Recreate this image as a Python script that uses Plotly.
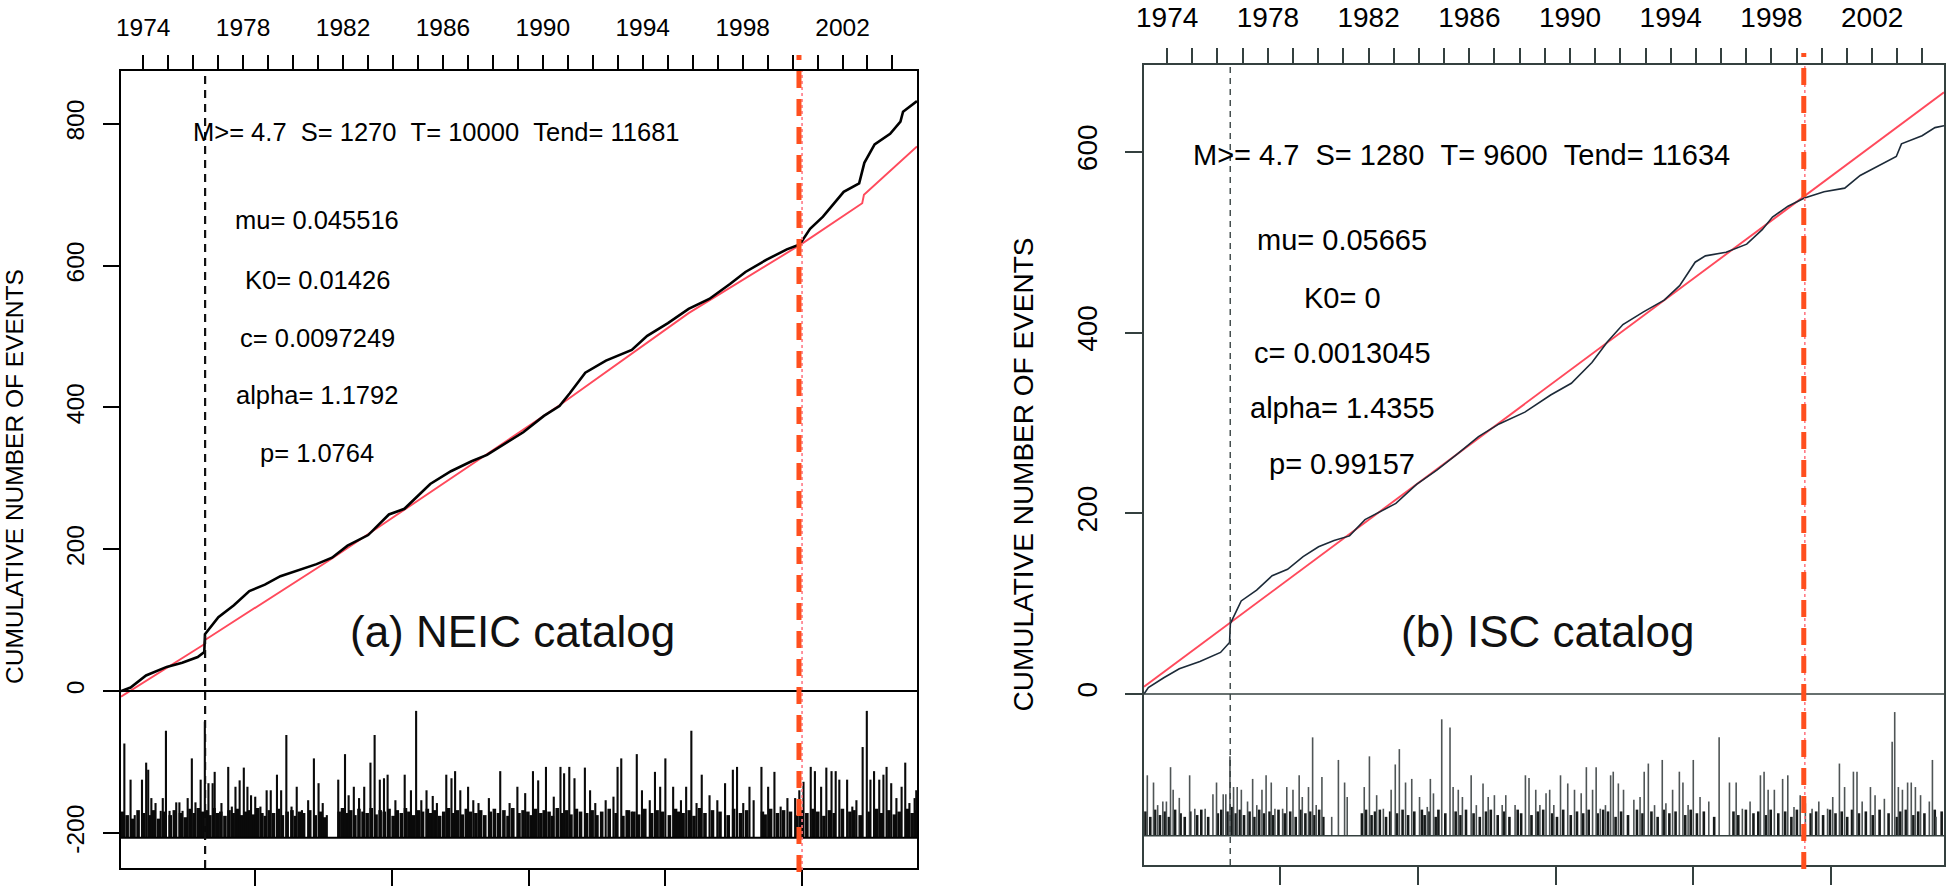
import datetime as dt
import plotly.graph_objects as go

W, H = 1946, 886

# ---------------- DATA (days since 1973-01-01, cumulative counts) ----------------
neic_days = [40, 180, 406, 708, 935, 1162, 1258, 1268, 1464, 1691, 1917, 2144, 2371, 2635, 2900,
             3126, 3353, 3655, 3806, 3958, 4185, 4411, 4562, 4865, 5167, 5393, 5620, 5923, 6225,
             6452, 6603, 6830, 7132, 7510, 7736, 8039, 8341, 8643, 8946, 9172, 9475, 9777, 9966,
             10117, 10306, 10609, 10835, 10911, 11061, 11288, 11439, 11477, 11681]
neic_cum = [0, 5, 22, 34, 40, 48, 55, 80, 104, 121, 141, 150, 162, 170, 179,
            188, 205, 220, 234, 249, 257, 278, 292, 310, 324, 333, 347, 365, 388,
            402, 420, 449, 466, 481, 501, 519, 539, 553, 574, 591, 608, 623, 630,
            652, 669, 704, 716, 745, 771, 786, 803, 817, 832]
neic_fit_days = [40, 1258, 1268, 3126, 6452, 8341, 10000, 10880, 10905, 11681]
neic_fit_cum = [-8, 66, 72, 187, 403, 533, 631, 688, 700, 768]

isc_days = [29, 92, 316, 541, 840, 1139, 1270, 1282, 1439, 1663, 1888, 2112, 2337, 2561, 2786,
            3010, 3235, 3459, 3683, 3983, 4282, 4581, 4881, 5180, 5554, 5928, 6228, 6527, 6752,
            6976, 7275, 7575, 7799, 8024, 8173, 8473, 8772, 8997, 9146, 9371, 9610, 9894, 10194,
            10418, 10718, 10942, 11017, 11316, 11503, 11634]
isc_cum = [0, 7, 18, 28, 36, 46, 57, 78, 103, 115, 131, 138, 152, 163, 170,
           175, 193, 202, 211, 232, 248, 266, 285, 299, 312, 331, 344, 367, 390,
           409, 423, 436, 452, 478, 485, 489, 498, 514, 528, 540, 549, 556, 560,
           574, 586, 595, 609, 618, 627, 629]
isc_fit_days = [29, 11634]
isc_fit_cum = [8, 666]

# magnitude spikes (event day, spike top in plot units)
neic_spike_days = [89, 180, 241, 347, 408, 438, 484, 545, 621, 651,
                   697, 750, 848, 894, 940, 1015, 1076, 1129, 1205, 1266,
                   1319, 1380, 1410, 1509, 1608, 1661, 1714, 1775, 1836, 1889,
                   1942, 2003, 2079, 2170, 2230, 2321, 2382, 2458, 2534, 2610,
                   2686, 2777, 2861, 2929, 2990, 3050, 3217, 3316, 3369, 3445,
                   3521, 3597, 3688, 3749, 3825, 3886, 3939, 4053, 4189, 4280,
                   4356, 4432, 4508, 4599, 4660, 4797, 4873, 4926, 5002, 5116,
                   5192, 5268, 5420, 5586, 5723, 5837, 5951, 6065, 6141, 6255,
                   6369, 6467, 6520, 6596, 6672, 6824, 6900, 6976, 7128, 7242,
                   7302, 7356, 7432, 7507, 7583, 7659, 7773, 7849, 7925, 8001,
                   8115, 8229, 8305, 8381, 8457, 8533, 8647, 8761, 8874, 8988,
                   9049, 9140, 9231, 9292, 9406, 9504, 9596, 9687, 9786, 9899,
                   9960, 10021, 10127, 10188, 10279, 10355, 10431, 10492, 10545, 10659,
                   10735, 10795, 10886, 10947, 11000, 11053, 11129, 11190, 11236, 11304,
                   11380, 11456, 11509, 11570, 11646, 11670]
neic_spike_top = [-74, -125, -175, -125, -101, -111, -151, -158, -169, -151,
                  -56, -169, -157, -157, -169, -151, -95, -157, -125, -43,
                  -130, -130, -114, -158, -107, -163, -135, -126, -108, -135,
                  -147, -149, -163, -140, -140, -118, -140, -62, -163, -135,
                  -168, -154, -95, -130, -158, -175, -125, -89, -147, -135,
                  -151, -135, -101, -62, -125, -123, -118, -154, -118, -140,
                  -28, -154, -140, -148, -158, -118, -123, -113, -140, -135,
                  -154, -158, -151, -113, -158, -135, -144, -113, -126, -107,
                  -149, -107, -116, -107, -123, -108, -140, -158, -154, -149,
                  -107, -95, -168, -170, -89, -140, -154, -114, -135, -95,
                  -135, -154, -135, -56, -158, -118, -147, -154, -130, -111,
                  -107, -158, -135, -154, -107, -135, -114, -163, -151, -151,
                  -140, -128, -107, -113, -135, -108, -113, -113, -125, -125,
                  -163, -154, -79, -28, -125, -113, -125, -118, -107, -130,
                  -151, -135, -101, -158, -151, -140]
neic_base_days = [60, 130, 210, 290, 370, 460, 520, 590, 680, 760, 820, 910, 980, 1050, 1110, 1170, 1230,
                  1290, 1340, 1400, 1450, 1500, 1560, 1620, 1680, 1740, 1800, 1860, 1920, 1980, 2040,
                  2100, 2150, 2210, 2270, 2340, 2400, 2470, 2540, 2590, 2650, 2710, 2800, 2880, 2960,
                  3020, 3230, 3280, 3340, 3400, 3460, 3520, 3580, 3640, 3700, 3770, 3830, 3890, 3960,
                  4020, 4080, 4140, 4200, 4250, 4320, 4390, 4450, 4520, 4570, 4630, 4700, 4760, 4830,
                  4900, 4960, 5030, 5090, 5150, 5230, 5300, 5360, 5440, 5500, 5560, 5640, 5700, 5770,
                  5860, 5920, 5990, 6040, 6100, 6180, 6230, 6300, 6350, 6420, 6490, 6560, 6620, 6700,
                  6760, 6850, 6930, 7000, 7070, 7180, 7280, 7380, 7460, 7540, 7610, 7700, 7800, 7880,
                  7960, 8060, 8150, 8190, 8260, 8350, 8420, 8500, 8580, 8690, 8800, 8920, 9000, 9100,
                  9190, 9420, 9460, 9540, 9640, 9730, 9830, 9920, 9990, 10070, 10160, 10230, 10320,
                  10400, 10470, 10590, 10700, 10760, 10850, 10980, 11090, 11160, 11270, 11350, 11420,
                  11540, 11610, 11665]
neic_base_top = [-170, -175, -180, -168, -172, -175, -168, -180, -170, -175, -168, -172, -178, -166, -172, -165, -170,
                 -168, -175, -165, -172, -170, -176, -168, -172, -166, -175, -170, -168, -174, -165,
                 -172, -176, -168, -172, -166, -175, -170, -168, -176, -170, -172, -168, -175, -170,
                 -178, -170, -165, -172, -168, -175, -166, -170, -172, -165, -174, -168, -170, -166,
                 -176, -168, -172, -165, -170, -175, -168, -170, -166, -172, -168, -176, -170, -165,
                 -172, -168, -174, -166, -170, -172, -168, -175, -170, -166, -172, -168, -176, -165,
                 -172, -168, -170, -175, -166, -172, -168, -170, -176, -165, -172, -168, -174, -166,
                 -170, -172, -168, -175, -170, -166, -172, -176, -168, -170, -174, -166, -172, -168,
                 -170, -175, -166, -170, -172, -168, -176, -165, -172, -168, -170, -175, -166, -172,
                 -168, -170, -174, -166, -172, -168, -170, -175, -168, -172, -166, -170, -176,
                 -168, -172, -166, -170, -168, -175, -170, -166, -172, -168, -174, -170,
                 -166, -172, -168]

isc_spike_days = [77, 167, 227, 302, 354, 414, 452, 541, 691, 766,
                  916, 1029, 1081, 1178, 1216, 1276, 1328, 1381, 1441, 1531,
                  1605, 1665, 1740, 1800, 1875, 1928, 2040, 2100, 2190, 2280,
                  2325, 2415, 2475, 2527, 2610, 2752, 2849, 2939, 2977, 3224,
                  3299, 3404, 3501, 3614, 3674, 3733, 3823, 3913, 4026, 4138,
                  4183, 4228, 4348, 4468, 4513, 4588, 4648, 4775, 4850, 4947,
                  5022, 5112, 5225, 5277, 5412, 5562, 5614, 5712, 5772, 5861,
                  5914, 5974, 6071, 6176, 6274, 6371, 6446, 6536, 6588, 6648,
                  6723, 6798, 6836, 6910, 6985, 7135, 7225, 7285, 7345, 7435,
                  7547, 7600, 7697, 7795, 7847, 7922, 7997, 8095, 8222, 8372,
                  8522, 8619, 8709, 8821, 8971, 9024, 9083, 9173, 9293, 9368,
                  9458, 9548, 9623, 9720, 9818, 9945, 10020, 10117, 10192, 10320,
                  10372, 10447, 10567, 10634, 10769, 10882, 10919, 10972, 11031, 11106,
                  11159, 11219, 11294, 11421, 11466, 11519]
isc_spike_top = [-90, -98, -123, -119, -119, -81, -106, -115, -90, -127,
                 -127, -111, -98, -111, -111, -69, -103, -103, -106, -119,
                 -94, -123, -106, -90, -98, -127, -127, -103, -106, -90,
                 -114, -103, -48, -123, -92, -136, -73, -98, -114, -103,
                 -69, -112, -127, -106, -78, -61, -98, -94, -114, -125,
                 -94, -110, -28, -37, -103, -106, -114, -90, -123, -99,
                 -114, -112, -123, -112, -123, -90, -93, -106, -123, -110,
                 -106, -123, -90, -99, -106, -110, -81, -106, -81, -127,
                 -123, -90, -86, -99, -106, -117, -114, -86, -77, -123,
                 -73, -121, -106, -86, -98, -123, -73, -114, -119, -48,
                 -98, -98, -127, -119, -90, -86, -106, -106, -94, -90,
                 -125, -112, -121, -127, -119, -127, -114, -77, -103, -86,
                 -86, -119, -103, -112, -116, -53, -20, -103, -106, -98,
                 -98, -103, -112, -119, -73, -136]
isc_base_days = [50, 120, 190, 260, 330, 390, 480, 560, 620, 700, 800, 860, 960, 1100, 1150, 1240,
                 1300, 1360, 1420, 1480, 1560, 1630, 1700, 1770, 1850, 1900, 1980, 2070, 2150, 2230,
                 2300, 2370, 2440, 2500, 2570, 2630, 3190, 3250, 3330, 3380, 3450, 3540, 3600, 3700,
                 3780, 3860, 3950, 4060, 4100, 4170, 4260, 4300, 4400, 4550, 4620, 4700, 4810, 4900,
                 4990, 5060, 5160, 5250, 5330, 5450, 5500, 5650, 5740, 5820, 5950, 6020, 6110, 6220,
                 6310, 6400, 6480, 6610, 6690, 6760, 6870, 6950, 7050, 7180, 7260, 7390, 7480, 7570,
                 7650, 7740, 7880, 7960, 8050, 8150, 8300, 8580, 8650, 8760, 8870, 8940, 9050, 9120,
                 9230, 9330, 9420, 9500, 9700, 9780, 9880, 9980, 10060, 10150, 10230, 10300, 10400,
                 10500, 10600, 10700, 10830, 10950, 11000, 11080, 11190, 11260, 11350, 11500, 11600]
isc_base_top = [-130, -136, -128, -134, -130, -136, -128, -132, -136, -130, -134, -128, -136, -132, -128, -130,
                -125, -132, -128, -134, -130, -136, -128, -132, -130, -134, -128, -132, -130, -136,
                -128, -132, -130, -134, -128, -136, -132, -128, -134, -130, -128, -136, -130, -132,
                -128, -134, -130, -128, -134, -130, -136, -128, -132, -130, -134, -128, -132, -136,
                -130, -128, -134, -130, -136, -128, -132, -134, -130, -128, -132, -136, -128, -134,
                -130, -132, -128, -132, -128, -130, -136, -130, -134, -128, -132, -130, -136, -128,
                -132, -130, -134, -128, -132, -130, -136, -130, -134, -128, -132, -130, -134, -128,
                -132, -130, -136, -128, -132, -130, -134, -128, -132, -130, -136, -128, -132,
                -130, -134, -128, -132, -136, -130, -128, -134, -130, -132, -128, -130]

neic_S, neic_T, neic_Tend, neic_start, neic_base = 1270, 10000, 11681, 40, -207
isc_S, isc_T, isc_Tend, isc_start, isc_base = 1280, 9600, 11634, 29, -157
neic_yrange = [-249.6, 874.5]
isc_yrange = [-189.3, 696.3]
neic_yticks = [-200, 0, 200, 400, 600, 800]
isc_yticks = [0, 200, 400, 600]
bottom_ticks = [2000, 4000, 6000, 8000, 10000]
years = list(range(1974, 2005))
year_labels = [str(y) if (y - 1974) % 4 == 0 else "" for y in years]

neic_header = "M>= 4.7  S= 1270  T= 10000  Tend= 11681"
neic_params = ["mu= 0.045516", "K0= 0.01426", "c= 0.0097249", "alpha= 1.1792", "p= 1.0764"]
isc_header = "M>= 4.7  S= 1280  T= 9600  Tend= 11634"
isc_params = ["mu= 0.05665", "K0= 0", "c= 0.0013045", "alpha= 1.4355", "p= 0.99157"]
ytitle = "CUMULATIVE NUMBER OF EVENTS"
neic_label = "(a) NEIC catalog"
isc_label = "(b) ISC catalog"

# ---------------- helpers ----------------
FONT = "Liberation Sans, Arial, Helvetica, sans-serif"
year_days = [(dt.date(y, 1, 1) - dt.date(1973, 1, 1)).days for y in years]


def px(x):
    return x / W


def py(y):
    return 1 - y / H


def nb(s):
    return s.replace("  ", " \u00a0")


def spikes(days, tops, base):
    xs, ys = [], []
    for d, t in zip(days, tops):
        xs += [d, d, None]
        ys += [base, t, None]
    return xs, ys


fig = go.Figure()

panels = [
    dict(ax="", topax="3", days=neic_days, cum=neic_cum, fd=neic_fit_days, fc=neic_fit_cum,
         sd=neic_spike_days, st=neic_spike_top, bd=neic_base_days, bt=neic_base_top,
         base=neic_base, S=neic_S, T=neic_T, start=neic_start, Tend=neic_Tend,
         yr=neic_yrange, yt=neic_yticks, box=(121, 917, 71, 868),
         lc="#000000", lw=2.0, cc="#000000", cw=2.6, sc="#0a0a0a", sw=2.1, bc="#0a0a0a", bw=3.6,
         tick=24.5, txt=25.5, ticklen=16, ystand=9, xstand=9,
         header=neic_header, params=neic_params, hxy=(436, 132), px_=317,
         pys=[220, 280, 338, 395, 453], label=neic_label, lxy=(512, 631),
         title_xy=(14, 477), red_y=(55, 872), dot_off=0, dash_off=-45, sdash="8px,6px", sdw=2.2),
    dict(ax="2", topax="4", days=isc_days, cum=isc_cum, fd=isc_fit_days, fc=isc_fit_cum,
         sd=isc_spike_days, st=isc_spike_top, bd=isc_base_days, bt=isc_base_top,
         base=isc_base, S=isc_S, T=isc_T, start=isc_start, Tend=isc_Tend,
         yr=isc_yrange, yt=isc_yticks, box=(1144, 1944, 65, 865),
         lc="#34403f", lw=1.6, cc="#1c2a38", cw=1.6, sc="#4f5556", sw=1.6, bc="#161a1a", bw=2.6,
         tick=28, txt=29, ticklen=17, ystand=17, xstand=10,
         header=isc_header, params=isc_params, hxy=(1461, 155), px_=1342,
         pys=[240, 298, 353, 408, 464], label=isc_label, lxy=(1547, 631),
         title_xy=(1022.5, 474), red_y=(53, 869), dot_off=15, dash_off=0, sdash="6px,5px", sdw=1.4),
]

layout = dict(width=W, height=H, margin=dict(l=0, r=0, t=0, b=0), autosize=False,
              paper_bgcolor="white", plot_bgcolor="white", showlegend=False,
              font=dict(family=FONT, color="#000"))
shapes, annotations = [], []

for p in panels:
    xa = "x" + p["ax"]
    ya = "y" + p["ax"]
    xt = "x" + p["topax"]
    x0, x1, yt0, yb0 = p["box"]
    xrange = [p["start"], p["Tend"]]
    # spikes
    bx, by = spikes(p["bd"], p["bt"], p["base"])
    fig.add_trace(go.Scatter(x=bx, y=by, mode="lines", xaxis=xa, yaxis=ya,
                             line=dict(color=p["bc"], width=p["bw"]), hoverinfo="skip"))
    sx, sy = spikes(p["sd"], p["st"], p["base"])
    fig.add_trace(go.Scatter(x=sx, y=sy, mode="lines", xaxis=xa, yaxis=ya,
                             line=dict(color=p["sc"], width=p["sw"]), hoverinfo="skip"))
    # fitted curve and observed cumulative
    fig.add_trace(go.Scatter(x=p["fd"], y=p["fc"], mode="lines", xaxis=xa, yaxis=ya,
                             line=dict(color="#ff4a5c", width=1.9), hoverinfo="skip"))
    fig.add_trace(go.Scatter(x=p["days"], y=p["cum"], mode="lines", xaxis=xa, yaxis=ya,
                             line=dict(color=p["cc"], width=p["cw"]), hoverinfo="skip"))
    # dummy trace for the top year axis
    fig.add_trace(go.Scatter(x=xrange, y=[0, 0], mode="lines", xaxis=xt, yaxis=ya,
                             line=dict(color="rgba(0,0,0,0)", width=0), hoverinfo="skip"))

    xdom = [px(x0), px(x1)]
    ydom = [py(yb0), py(yt0)]
    key = p["ax"]
    layout["xaxis" + key] = dict(domain=xdom, range=xrange, anchor=ya, showgrid=False, zeroline=False,
                                 showline=True, mirror=True, linecolor=p["lc"], linewidth=p["lw"],
                                 ticks="outside", tickvals=bottom_ticks, ticklen=p["ticklen"] + 1,
                                 tickwidth=p["lw"], tickcolor=p["lc"], showticklabels=False,
                                 fixedrange=True, automargin=False)
    layout["yaxis" + key] = dict(domain=ydom, range=p["yr"], anchor=xa, showgrid=False, zeroline=False,
                                 showline=True, mirror=True, linecolor=p["lc"], linewidth=p["lw"],
                                 ticks="outside", tickvals=p["yt"], ticktext=[str(v) for v in p["yt"]],
                                 ticklen=p["ticklen"], tickwidth=p["lw"], tickcolor=p["lc"],
                                 tickangle=-90, tickfont=dict(size=p["tick"], color="#000", family=FONT),
                                 ticklabelstandoff=p["ystand"], fixedrange=True, automargin=False)
    layout["xaxis" + p["topax"]] = dict(domain=xdom, range=xrange, anchor=ya, overlaying=xa, side="top",
                                        showgrid=False, zeroline=False, showline=False,
                                        ticks="outside", tickvals=year_days, ticktext=year_labels,
                                        ticklen=p["ticklen"] - 1, tickwidth=p["lw"], tickcolor=p["lc"],
                                        tickangle=0, tickfont=dict(size=p["tick"], color="#000", family=FONT),
                                        ticklabelstandoff=p["xstand"], fixedrange=True, automargin=False)

    # horizontal lines: zero line and spike baseline
    for yv in (0, p["base"]):
        shapes.append(dict(type="line", xref=xa + " domain", yref=ya, x0=0, x1=1, y0=yv, y1=yv,
                           line=dict(color=p["lc"], width=p["lw"])))
    # S marker
    shapes.append(dict(type="line", xref=xa, yref=ya + " domain", x0=p["S"], x1=p["S"], y0=0, y1=1,
                       line=dict(color="#111" if key == "" else "#3a4444", width=p["sdw"], dash=p["sdash"])))
    # T markers
    shapes.append(dict(type="line", xref=xa, yref="paper", x0=p["T"] + p["dot_off"], x1=p["T"] + p["dot_off"],
                       y0=py(yb0 + 2), y1=py(yt0), line=dict(color="#ff7a86", width=1.6, dash="dot")))
    shapes.append(dict(type="line", xref=xa, yref="paper", x0=p["T"] + p["dash_off"], x1=p["T"] + p["dash_off"],
                       y0=py(p["red_y"][1]), y1=py(p["red_y"][0]),
                       line=dict(color="#ff4f1e", width=5, dash="17px,11px")))

    # texts
    annotations.append(dict(x=px(p["hxy"][0]), y=py(p["hxy"][1]), xref="paper", yref="paper",
                            text=nb(p["header"]), showarrow=False, xanchor="center", yanchor="middle",
                            font=dict(size=p["txt"], color="#000", family=FONT)))
    for t, yy in zip(p["params"], p["pys"]):
        annotations.append(dict(x=px(p["px_"]), y=py(yy), xref="paper", yref="paper", text=t,
                                showarrow=False, xanchor="center", yanchor="middle",
                                font=dict(size=p["txt"], color="#000", family=FONT)))
    annotations.append(dict(x=px(p["lxy"][0]), y=py(p["lxy"][1]), xref="paper", yref="paper",
                            text=p["label"], showarrow=False, xanchor="center", yanchor="middle",
                            font=dict(size=44, color="#111", family=FONT)))
    annotations.append(dict(x=px(p["title_xy"][0]), y=py(p["title_xy"][1]), xref="paper", yref="paper",
                            text=ytitle, textangle=-90, showarrow=False, xanchor="center", yanchor="middle",
                            font=dict(size=p["tick"], color="#000", family=FONT)))

layout["shapes"] = shapes
layout["annotations"] = annotations
fig.update_layout(**layout)
fig.write_html("out.html", config={"displayModeBar": False},
               post_script="document.body.style.margin='0px';")
